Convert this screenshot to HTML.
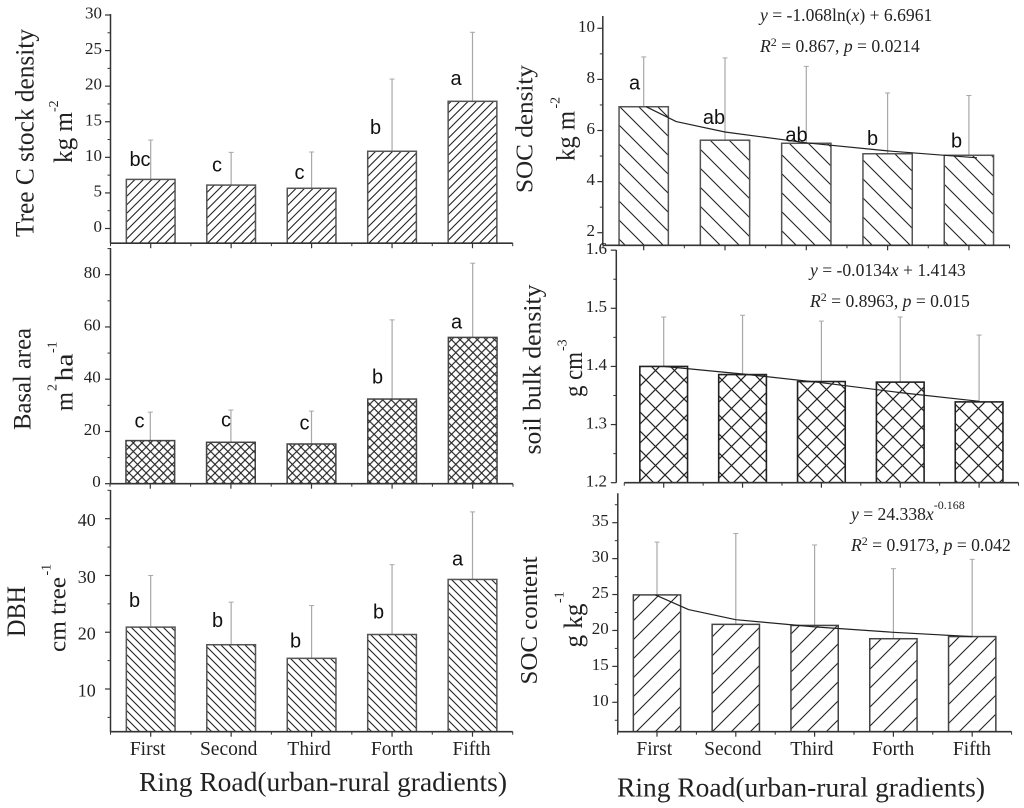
<!DOCTYPE html>
<html lang="en">
<head>
<meta charset="utf-8">
<title>Ring road urban-rural gradient charts</title>
<style>
html,body{margin:0;padding:0;background:#fff;width:1024px;height:808px;overflow:hidden}
svg{display:block;filter:blur(0.3px)}
text{font-family:"Liberation Serif",serif;fill:#222}
.letter{font-family:"Liberation Sans",sans-serif;font-size:20px;text-anchor:middle;fill:#111}
.eq{font-size:17.6px}
.eq .it{font-style:italic}
.sup{font-size:12px}
</style>
</head>
<body>
<svg id="figure" xmlns="http://www.w3.org/2000/svg" width="1024" height="808" viewBox="0 0 1024 808">
<defs>
<pattern id="h-fwd-fine" width="8.5" height="8.5" patternUnits="userSpaceOnUse"><path d="M0,8.5L8.5,0M-1,1L1,-1M7.5,9.5L9.5,7.5" stroke="#222" stroke-width="1.1" fill="none"/></pattern>
<pattern id="h-back-fine" width="8" height="8" patternUnits="userSpaceOnUse"><path d="M0,0L8,8M-1,7L1,9M7,-1L9,1" stroke="#222" stroke-width="1.1" fill="none"/></pattern>
<pattern id="h-cross-fine" width="8.6" height="8.6" patternUnits="userSpaceOnUse"><path d="M0,8.6L8.6,0M-1,1L1,-1M7.6,9.6L9.6,7.6M0,0L8.6,8.6M-1,7.6L1,9.6M7.6,-1L9.6,1" stroke="#222" stroke-width="1.1" fill="none"/></pattern>
<pattern id="h-back-wide" width="19" height="19" patternUnits="userSpaceOnUse"><path d="M0,0L19,19M-1,18L1,20M18,-1L20,1" stroke="#222" stroke-width="1.1" fill="none"/></pattern>
<pattern id="h-fwd-wide" width="19" height="19" patternUnits="userSpaceOnUse"><path d="M0,19L19,0M-1,1L1,-1M18,20L20,18" stroke="#222" stroke-width="1.1" fill="none"/></pattern>
<pattern id="h-cross-wide" width="19" height="19" patternUnits="userSpaceOnUse"><path d="M0,19L19,0M-1,1L1,-1M18,20L20,18M0,0L19,19M-1,18L1,20M18,-1L20,1" stroke="#222" stroke-width="1.2" fill="none"/></pattern>
</defs>

<g id="panel-tree"></g>
<g id="panel-basal"></g>
<g id="panel-dbh"></g>
<g id="panel-socd"></g>
<g id="panel-bulk"></g>
<g id="panel-socc"></g>

<!-- y axis titles -->
<text transform="translate(33.5,237) rotate(-90)" font-size="26.5" textLength="208" lengthAdjust="spacingAndGlyphs">Tree C stock density</text>
<text transform="translate(72,163) rotate(-90)" font-size="26" textLength="51" lengthAdjust="spacingAndGlyphs">kg m</text>
<text transform="translate(58,112) rotate(-90)" font-size="14">-2</text>

<text transform="translate(30.5,430) rotate(-90)" font-size="25" textLength="102" lengthAdjust="spacingAndGlyphs">Basal area</text>
<text transform="translate(72.5,411) rotate(-90)" font-size="25" textLength="19" lengthAdjust="spacingAndGlyphs">m</text>
<text transform="translate(56.5,391) rotate(-90)" font-size="14">2</text>
<text transform="translate(72.5,381.5) rotate(-90)" font-size="25" textLength="28" lengthAdjust="spacingAndGlyphs">ha</text>
<text transform="translate(56.5,353) rotate(-90)" font-size="14">-1</text>

<text transform="translate(25,637) rotate(-90)" font-size="26" textLength="51" lengthAdjust="spacingAndGlyphs">DBH</text>
<text transform="translate(65.5,652) rotate(-90)" font-size="24.5" textLength="75" lengthAdjust="spacingAndGlyphs">cm tree</text>
<text transform="translate(50.5,575.5) rotate(-90)" font-size="14">-1</text>

<text transform="translate(532.5,193) rotate(-90)" font-size="24.5" textLength="128" lengthAdjust="spacingAndGlyphs">SOC density</text>
<text transform="translate(574.5,161) rotate(-90)" font-size="26" textLength="50" lengthAdjust="spacingAndGlyphs">kg m</text>
<text transform="translate(559.5,108.5) rotate(-90)" font-size="14">-2</text>

<text transform="translate(540.5,454.5) rotate(-90)" font-size="25.5" textLength="170" lengthAdjust="spacingAndGlyphs">soil bulk density</text>
<text transform="translate(582,397) rotate(-90)" font-size="26" textLength="45" lengthAdjust="spacingAndGlyphs">g cm</text>
<text transform="translate(566.5,351) rotate(-90)" font-size="14">-3</text>

<text transform="translate(537,684.5) rotate(-90)" font-size="24.5" textLength="128" lengthAdjust="spacingAndGlyphs">SOC content</text>
<text transform="translate(582,647.5) rotate(-90)" font-size="26" textLength="44" lengthAdjust="spacingAndGlyphs">g kg</text>
<text transform="translate(563.5,603) rotate(-90)" font-size="14">-1</text>

<!-- x axis titles -->
<text x="139" y="791" font-size="27" textLength="368" lengthAdjust="spacingAndGlyphs">Ring Road(urban-rural gradients)</text>
<text x="617" y="796.5" font-size="27" textLength="368" lengthAdjust="spacingAndGlyphs">Ring Road(urban-rural gradients)</text>

<!-- significance letters -->
<g>
<text class="letter" x="140" y="166">bc</text>
<text class="letter" x="217" y="171.5">c</text>
<text class="letter" x="299.5" y="179">c</text>
<text class="letter" x="375.5" y="134">b</text>
<text class="letter" x="456" y="85">a</text>
</g>
<g>
<text class="letter" x="139.5" y="427.5">c</text>
<text class="letter" x="226" y="426.5">c</text>
<text class="letter" x="304.5" y="429.5">c</text>
<text class="letter" x="377.5" y="383.5">b</text>
<text class="letter" x="456.5" y="328.5">a</text>
</g>
<g>
<text class="letter" x="134.5" y="607">b</text>
<text class="letter" x="217.5" y="627">b</text>
<text class="letter" x="295.5" y="647.5">b</text>
<text class="letter" x="378.5" y="618.5">b</text>
<text class="letter" x="457.5" y="565.5">a</text>
</g>
<g>
<text class="letter" x="634.5" y="89.5">a</text>
<text class="letter" x="714" y="124">ab</text>
<text class="letter" x="796.5" y="141.5">ab</text>
<text class="letter" x="872.5" y="145">b</text>
<text class="letter" x="956.5" y="147.5">b</text>
</g>

<!-- regression annotations -->
<g class="eq">
<text x="760" y="21"><tspan class="it">y</tspan> = -1.068ln(<tspan class="it">x</tspan>) + 6.6961</text>
<text x="760" y="52"><tspan class="it">R</tspan><tspan class="sup" dy="-6">2</tspan><tspan dy="6"> = 0.867, </tspan><tspan class="it">p</tspan> = 0.0214</text>
</g>
<g class="eq">
<text x="810" y="276"><tspan class="it">y</tspan> = -0.0134<tspan class="it">x</tspan> + 1.4143</text>
<text x="810" y="307"><tspan class="it">R</tspan><tspan class="sup" dy="-6">2</tspan><tspan dy="6"> = 0.8963, </tspan><tspan class="it">p</tspan> = 0.015</text>
</g>
<g class="eq">
<text x="851" y="520"><tspan class="it">y</tspan> = 24.338<tspan class="it">x</tspan><tspan class="sup" dy="-11">-0.168</tspan></text>
<text x="851" y="551"><tspan class="it">R</tspan><tspan class="sup" dy="-6">2</tspan><tspan dy="6"> = 0.9173, </tspan><tspan class="it">p</tspan> = 0.042</text>
</g>
</svg>

<script>
const categories = ["First", "Second", "Third", "Forth", "Fifth"];

const treeValues = [6.9, 6.1, 5.65, 10.85, 17.87];
const treeErrorTops = [12.43, 10.7, 10.75, 21, 27.57];
const treeTicks = [0, 5, 10, 15, 20, 25, 30];
const treeTickLabels = ["0", "5", "10", "15", "20", "25", "30"];

const basalValues = [16.5, 15.85, 15.2, 32.4, 56];
const basalErrorTops = [27.4, 28.2, 27.8, 62.7, 84.4];
const basalTicks = [0, 20, 40, 60, 80];
const basalTickLabels = ["0", "20", "40", "60", "80"];

const dbhValues = [20.9, 17.8, 15.4, 19.6, 29.3];
const dbhErrorTops = [30, 25.3, 24.7, 31.9, 41.2];
const dbhTicks = [10, 20, 30, 40];
const dbhTickLabels = ["10", "20", "30", "40"];

const socDensityValues = [6.93, 5.62, 5.5, 5.09, 5.03];
const socDensityErrorTops = [8.88, 8.84, 8.51, 7.47, 7.37];
const socDensityTicks = [2, 4, 6, 8, 10];
const socDensityTickLabels = ["2", "4", "6", "8", "10"];
const socDensityTrendX = [1.03, 1.4, 2, 3, 4, 5.1];
const socDensityTrendY = [6.93, 6.35, 5.94, 5.52, 5.2, 4.93];

const bulkValues = [1.4, 1.386, 1.374, 1.373, 1.339];
const bulkErrorTops = [1.485, 1.488, 1.478, 1.485, 1.454];
const bulkTicks = [1.2, 1.3, 1.4, 1.5, 1.6];
const bulkTickLabels = ["1.2", "1.3", "1.4", "1.5", "1.6"];
const bulkTrendX = [1, 2, 3, 4, 5];
const bulkTrendY = [1.4, 1.387, 1.372, 1.355, 1.34];

const socContentValues = [24.95, 20.85, 20.7, 18.85, 19.15];
const socContentErrorTops = [32.3, 33.5, 31.9, 28.6, 29.9];
const socContentTicks = [10, 15, 20, 25, 30, 35];
const socContentTickLabels = ["10", "15", "20", "25", "30", "35"];
const socContentTrendX = [0.98, 1.4, 2, 3, 4, 5];
const socContentTrendY = [24.95, 22.9, 21.5, 20.5, 19.75, 19.15];

const NS = "http://www.w3.org/2000/svg";
function make(parent, tag, attrs, text) {
  const el = document.createElementNS(NS, tag);
  for (const k in attrs) el.setAttribute(k, attrs[k]);
  if (text !== undefined) el.textContent = text;
  parent.appendChild(el);
  return el;
}

function drawPanel(cfg) {
  const g = document.getElementById(cfg.id);
  const yScale = v => cfg.yA + (v - cfg.vA) * (cfg.yB - cfg.yA) / (cfg.vB - cfg.vA);
  const xScale = c => cfg.x0 + (c - 1) * cfg.xStep;
  const axisY = cfg.axisY, axisX = cfg.axisX;
  const leftX = xScale(0.5), rightX = xScale(5.5);

  // bars and error bars
  categories.forEach((cat, i) => {
    const cx = xScale(i + 1);
    const topY = yScale(cfg.values[i]);
    const errY = yScale(cfg.errors[i]);
    const err = make(g, "line", {x1: cx, x2: cx, y1: topY, y2: errY, stroke: "#a8a8a8", "stroke-width": 1.2});
    
    
    const cap = make(g, "line", {x1: cx - 2.5, x2: cx + 2.5, y1: errY, y2: errY, stroke: "#a8a8a8", "stroke-width": 1});
    
    
    const bar = make(g, "rect", {x: cx - cfg.barW / 2, y: topY, width: cfg.barW, height: axisY - topY, fill: "url(#" + cfg.hatch + ")", stroke: cfg.barStroke, "stroke-width": cfg.barStrokeW});
    
    
  });

  // trend line
  if (cfg.trendX) {
    const pts = cfg.trendX.map((c, i) => xScale(c).toFixed(1) + "," + yScale(cfg.trendY[i]).toFixed(1)).join(" ");
    const trend = make(g, "polyline", {points: pts, fill: "none", stroke: "#222", "stroke-width": 1.2, "stroke-linejoin": "round"});
    
    
  }

  // y axis
  const yAxis = make(g, "line", {x1: axisX, x2: axisX, y1: cfg.axisTop, y2: axisY + (cfg.yAxisTail || 0), stroke: "#333", "stroke-width": 1.5});
  
  

  // major y ticks
  cfg.ticks.forEach((v, i) => {
    const y = yScale(v);
    const tick = make(g, "line", {x1: axisX - 5.5, x2: axisX, y1: y, y2: y, stroke: "#333", "stroke-width": 1.2});
    
    
    const lab = make(g, "text", {x: cfg.labelEnd, y: y + cfg.labelDy, "text-anchor": "end", "font-size": cfg.labelSize}, cfg.tickLabels[i]);
    
    
  });

  // minor y ticks, half way between the major ones
  const step = cfg.ticks[1] - cfg.ticks[0];
  const first = cfg.ticks[0] - step / 2;
  for (let k = 0; k <= cfg.ticks.length; k++) {
    const y = yScale(first + k * step);
    if (y < cfg.axisTop || y > axisY) continue;
    const minor = make(g, "line", {x1: axisX - 3, x2: axisX, y1: y, y2: y, stroke: "#333", "stroke-width": 1});
    
    
  }

  // x axis
  const xAxis = make(g, "line", {x1: leftX, x2: rightX, y1: axisY, y2: axisY, stroke: "#333", "stroke-width": 1.7});
  
  
  categories.forEach((cat, i) => {
    const cx = xScale(i + 1);
    const tick = make(g, "line", {x1: cx, x2: cx, y1: axisY, y2: axisY + 5, stroke: "#333", "stroke-width": 1.2});
    
    
  });
  for (let c = 0.5; c <= 5.5; c += 1) {
    const mx = xScale(c);
    const minor = make(g, "line", {x1: mx, x2: mx, y1: axisY, y2: axisY + 3, stroke: "#333", "stroke-width": 1});
    
    
  }

  // category labels
  if (cfg.catLabelX) {
    categories.forEach((cat, i) => {
      const lab = make(g, "text", {x: xScale(i + 1) + cfg.catLabelX[i], y: 755, "text-anchor": "middle", "font-size": 19.5}, cat);
      
      
    });
  }
}

drawPanel({id: "panel-tree", values: treeValues, errors: treeErrorTops, ticks: treeTicks, tickLabels: treeTickLabels,
  vA: 0, yA: 228.5, vB: 30, yB: 15, x0: 150.7, xStep: 80.45, axisX: 110.5, axisY: 243.2, axisTop: 14, barW: 48.7,
  hatch: "h-fwd-fine", barStroke: "#555", barStrokeW: 1.5, labelEnd: 102, labelDy: 3.5, labelSize: 17});

drawPanel({id: "panel-basal", values: basalValues, errors: basalErrorTops, ticks: basalTicks, tickLabels: basalTickLabels,
  vA: 0, yA: 483.7, vB: 80, yB: 274.7, x0: 150.3, xStep: 80.6, axisX: 110.5, axisY: 483.7, axisTop: 248, barW: 48.7,
  hatch: "h-cross-fine", barStroke: "#444", barStrokeW: 1.5, labelEnd: 100.7, labelDy: 3.5, labelSize: 17});

drawPanel({id: "panel-dbh", values: dbhValues, errors: dbhErrorTops, ticks: dbhTicks, tickLabels: dbhTickLabels,
  vA: 10, yA: 689, vB: 40, yB: 518.7, x0: 150.7, xStep: 80.45, axisX: 110.5, axisY: 731.7, axisTop: 490, barW: 48.7,
  hatch: "h-back-fine", barStroke: "#555", barStrokeW: 1.5, labelEnd: 95.7, labelDy: 7.5, labelSize: 18,
  catLabelX: [-3, -2.5, -2.5, 0, -1]});

drawPanel({id: "panel-socd", values: socDensityValues, errors: socDensityErrorTops, ticks: socDensityTicks, tickLabels: socDensityTickLabels,
  trendX: socDensityTrendX, trendY: socDensityTrendY,
  vA: 2, yA: 232.7, vB: 10, yB: 28.3, x0: 643.7, xStep: 81.3, axisX: 602.8, axisY: 245.3, axisTop: 16, barW: 49.3,
  hatch: "h-back-wide", barStroke: "#555", barStrokeW: 1.5, labelEnd: 595, labelDy: 3.5, labelSize: 17});

drawPanel({id: "panel-bulk", values: bulkValues, errors: bulkErrorTops, ticks: bulkTicks, tickLabels: bulkTickLabels,
  trendX: bulkTrendX, trendY: bulkTrendY,
  vA: 1.2, yA: 482.7, vB: 1.5, yB: 308.3, x0: 663.7, xStep: 78.85, axisX: 616.3, axisY: 482.7, axisTop: 250, barW: 47.7,
  hatch: "h-cross-wide", barStroke: "#222", barStrokeW: 1.6, labelEnd: 607, labelDy: 3.8, labelSize: 17});

drawPanel({id: "panel-socc", values: socContentValues, errors: socContentErrorTops, ticks: socContentTicks, tickLabels: socContentTickLabels,
  trendX: socContentTrendX, trendY: socContentTrendY,
  vA: 10, yA: 702.3, vB: 35, yB: 522.7, x0: 657, xStep: 78.8, axisX: 617.8, axisY: 731.7, axisTop: 493.3, barW: 47.3,
  hatch: "h-fwd-wide", barStroke: "#444", barStrokeW: 1.5, labelEnd: 608.7, labelDy: 3.5, labelSize: 17,
  catLabelX: [-2.7, -3, -2.7, -0.3, -0.3]});
</script>
</body>
</html>
